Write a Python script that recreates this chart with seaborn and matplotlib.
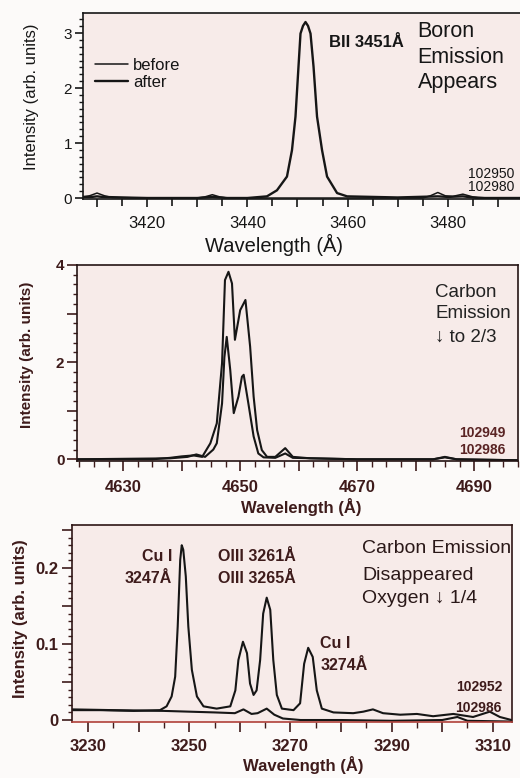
import matplotlib
matplotlib.use("Agg")
import matplotlib.pyplot as plt
import seaborn as sns
import pandas as pd
from matplotlib.ticker import MultipleLocator, FuncFormatter

# ---------------- Boron window (B II 3451 Å) ----------------
boron_before_wl = [3407.2, 3408.5, 3410.0, 3411.5, 3413.0, 3420.0, 3430.0, 3431.5, 3433.0, 3434.5,
                   3436.0, 3445.0, 3452.0, 3460.0, 3470.0, 3475.0, 3476.5, 3478.0, 3479.5, 3481.0,
                   3483.0, 3485.0, 3488.0, 3494.6]
boron_before_int = [0.02, 0.04, 0.09, 0.04, 0.01, 0.0, 0.0, 0.02, 0.06, 0.02,
                    0.0, 0.0, 0.0, 0.0, 0.0, 0.0, 0.04, 0.10, 0.04, 0.03,
                    0.07, 0.02, 0.0, -0.01]
boron_after_wl = [3407.2, 3409.0, 3410.0, 3411.0, 3415.0, 3420.0, 3430.0, 3433.0, 3436.0, 3440.0,
                  3443.9, 3445.9, 3447.9, 3448.9, 3449.6, 3450.2, 3450.6, 3451.1, 3451.6, 3452.1,
                  3452.6, 3453.2, 3453.9, 3454.9, 3455.9, 3457.9, 3459.9, 3465.0, 3470.0, 3478.0,
                  3480.0, 3483.0, 3486.0, 3494.6]
boron_after_int = [0.02, 0.02, 0.03, 0.02, 0.01, 0.0, 0.0, 0.02, 0.0, 0.0,
                   0.03, 0.14, 0.39, 0.87, 1.48, 2.39, 2.99, 3.13, 3.20, 3.13,
                   2.99, 2.39, 1.48, 0.87, 0.39, 0.09, 0.03, 0.02, 0.01, 0.03,
                   0.02, 0.03, 0.0, 0.0]

# ---------------- Carbon window (C III ~4650 Å) ----------------
carbon_before_wl = [4622.1, 4635.0, 4638.0, 4640.0, 4642.0, 4643.5, 4644.9, 4646.0, 4646.9, 4647.4,
                    4648.0, 4648.6, 4649.1, 4650.0, 4650.9, 4651.7, 4652.3, 4652.9, 4653.7, 4654.6,
                    4656.0, 4657.7, 4659.0, 4662.0, 4670.0, 4683.0, 4685.0, 4687.0, 4697.5]
carbon_before_int = [0.0, 0.0, 0.03, 0.06, 0.08, 0.05, 0.33, 0.74, 1.98, 3.69,
                     3.86, 3.62, 2.46, 3.07, 3.28, 2.32, 1.29, 0.60, 0.19, 0.05,
                     0.05, 0.23, 0.05, 0.02, 0.0, 0.0, 0.05, 0.0, -0.02]
carbon_after_wl = [4622.1, 4638.0, 4641.0, 4642.5, 4644.0, 4645.4, 4646.0, 4646.9, 4647.3, 4647.7,
                   4648.3, 4648.9, 4649.7, 4650.3, 4650.6, 4651.4, 4652.3, 4653.1, 4654.0, 4656.0,
                   4657.7, 4659.0, 4670.0, 4683.0, 4685.0, 4687.0, 4697.5]
carbon_after_int = [0.0, 0.02, 0.05, 0.10, 0.05, 0.20, 0.33, 1.15, 2.10, 2.52,
                    1.84, 0.95, 1.29, 1.70, 1.74, 1.15, 0.47, 0.12, 0.04, 0.03,
                    0.12, 0.03, 0.0, 0.0, 0.04, 0.0, -0.02]

# ---------------- Oxygen / copper window (3230-3310 Å) ----------------
oxygen_before_wl = [3226.8, 3232.4, 3239.0, 3244.2, 3245.5, 3246.5, 3247.2, 3247.7, 3248.2, 3248.5,
                    3248.8, 3249.3, 3249.8, 3250.5, 3251.5, 3252.8, 3255.4, 3258.1, 3259.1, 3259.7,
                    3260.6, 3261.4, 3262.0, 3262.7, 3263.3, 3264.0, 3264.6, 3265.3, 3266.0, 3266.6,
                    3267.3, 3268.3, 3270.6, 3271.9, 3272.7, 3273.5, 3274.4, 3275.2, 3276.2, 3278.5,
                    3282.4, 3284.4, 3286.3, 3288.3, 3291.7, 3295.0, 3298.2, 3302.2, 3306.1, 3309.4,
                    3311.4, 3313.7]
oxygen_before_int = [0.013, 0.013, 0.012, 0.013, 0.018, 0.031, 0.057, 0.123, 0.211, 0.230,
                     0.224, 0.189, 0.123, 0.066, 0.031, 0.018, 0.015, 0.018, 0.039, 0.079,
                     0.103, 0.088, 0.048, 0.033, 0.039, 0.079, 0.140, 0.161, 0.145, 0.079,
                     0.033, 0.015, 0.013, 0.022, 0.074, 0.095, 0.083, 0.039, 0.015, 0.010,
                     0.009, 0.011, 0.014, 0.009, 0.007, 0.008, 0.005, 0.008, 0.004, 0.011,
                     0.004, 0.0]
oxygen_after_wl = [3226.8, 3235.0, 3245.0, 3255.0, 3259.0, 3260.7, 3262.3, 3263.5, 3265.3, 3266.8,
                   3268.5, 3272.0, 3280.0, 3290.0, 3300.0, 3303.0, 3305.0, 3313.7]
oxygen_after_int = [0.014, 0.013, 0.012, 0.010, 0.009, 0.014, 0.008, 0.009, 0.015, 0.007,
                    0.002, 0.0, 0.0, -0.001, 0.0, 0.004, -0.001, -0.002]

# ---------------- styling ----------------
sns.set_theme(style="ticks")
plt.rcParams["font.family"] = ["Liberation Sans", "DejaVu Sans"]
plt.rcParams["axes.linewidth"] = 1.2

PAGE = "#fcfaf9"
PANEL = "#f7ebe9"
INK = "#161616"
MAROON = "#3e1b1b"
W, H = 520, 778


def frac_axes(left, top, right, bottom):
    return [left / W, 1 - bottom / H, (right - left) / W, (bottom - top) / H]


def spectrum(wl, inten, name):
    return pd.DataFrame({"wavelength": wl, "intensity": inten, "shot": name})


def labels_every_20(start, fmt="{:.0f}"):
    def f(v, pos):
        k = (v - start) / 20.0
        return fmt.format(v) if abs(k - round(k)) < 1e-6 else ""
    return FuncFormatter(f)


fig = plt.figure(figsize=(W / 100, H / 100), dpi=100, facecolor=PAGE)

# ================= Panel 1: boron =================
ax1 = fig.add_axes(frac_axes(83, 13, 521, 199))
ax1.set_facecolor(PANEL)
b_before = spectrum(boron_before_wl, boron_before_int, "before")
b_after = spectrum(boron_after_wl, boron_after_int, "after")
sns.lineplot(data=b_before, x="wavelength", y="intensity", ax=ax1, color=INK,
             lw=1.1, label="before", sort=False, estimator=None)
sns.lineplot(data=b_after, x="wavelength", y="intensity", ax=ax1, color=INK,
             lw=1.7, label="after", sort=False, estimator=None)
ax1.set_xlim(3407.2, 3494.6)
ax1.set_ylim(-0.018, 3.364)
ax1.xaxis.set_major_locator(MultipleLocator(10))
ax1.xaxis.set_minor_locator(MultipleLocator(5))
ax1.xaxis.set_major_formatter(labels_every_20(3420))
ax1.yaxis.set_major_locator(MultipleLocator(1))
ax1.yaxis.set_minor_locator(MultipleLocator(0.125))
ax1.tick_params(axis="x", which="major", length=6, width=1.2, labelsize=12, pad=6, colors=INK)
ax1.tick_params(axis="x", which="minor", length=5, width=1.2, colors=INK)
ax1.tick_params(axis="y", which="major", length=6, width=1.2, labelsize=11, pad=2, colors=INK)
ax1.tick_params(axis="y", which="minor", length=3, width=1.0, colors=INK)
ax1.spines["right"].set_visible(False)
for s in ("left", "top", "bottom"):
    ax1.spines[s].set_color(INK)
ax1.set_xlabel("Wavelength (Å)", fontsize=14.5, color=INK, va="center")
ax1.xaxis.set_label_coords(0.435, -0.245)
ax1.set_ylabel("Intensity (arb. units)", fontsize=12, color=INK, va="center")
ax1.yaxis.set_label_coords(-0.117, 0.548)
ax1.legend(loc="upper left", bbox_to_anchor=(0.027, 0.758), frameon=False, fontsize=12,
           handlelength=2.0, handletextpad=0.3, labelspacing=0.1, borderpad=0, borderaxespad=0,
           labelcolor=INK)
ax1.text(0.561, 0.839, "BII 3451Å", transform=ax1.transAxes, fontsize=12, fontweight="bold",
         color=INK, ha="left", va="center")
for txt, y in zip(["Boron", "Emission", "Appears"], [0.903, 0.763, 0.624]):
    ax1.text(0.764, y, txt, transform=ax1.transAxes, fontsize=15.5, color=INK,
             ha="left", va="center")
for txt, y in zip(["102950", "102980"], [0.137, 0.062]):
    ax1.text(0.984, y, txt, transform=ax1.transAxes, fontsize=10, color=INK,
             ha="right", va="center")

# ================= Panel 2: carbon =================
ax2 = fig.add_axes(frac_axes(77, 265, 518, 461))
ax2.set_facecolor(PANEL)
c_before = spectrum(carbon_before_wl, carbon_before_int, "before")
c_after = spectrum(carbon_after_wl, carbon_after_int, "after")
sns.lineplot(data=c_before, x="wavelength", y="intensity", ax=ax2, color=INK,
             lw=1.5, sort=False, estimator=None)
sns.lineplot(data=c_after, x="wavelength", y="intensity", ax=ax2, color=INK,
             lw=1.5, sort=False, estimator=None)
ax2.set_xlim(4622.1, 4697.5)
ax2.set_ylim(-0.035, 4.0)
ax2.xaxis.set_major_locator(MultipleLocator(10))
ax2.xaxis.set_minor_locator(MultipleLocator(2.5))
ax2.xaxis.set_major_formatter(labels_every_20(4630))
ax2.yaxis.set_major_locator(MultipleLocator(1))
ax2.yaxis.set_minor_locator(MultipleLocator(0.2))
ax2.yaxis.set_major_formatter(FuncFormatter(lambda v, p: f"{v:.0f}" if round(v) % 2 == 0 else ""))
ax2.tick_params(axis="x", which="major", length=7, width=1.2, labelsize=12, pad=7, colors=MAROON)
ax2.tick_params(axis="x", which="minor", length=4, width=1.0, colors=MAROON)
ax2.tick_params(axis="y", which="major", length=7, width=1.2, labelsize=11, pad=2, colors=MAROON)
ax2.tick_params(axis="y", which="minor", length=3, width=1.0, colors=MAROON)
for lab in ax2.get_xticklabels() + ax2.get_yticklabels():
    lab.set_fontweight("bold")
for s in ("left", "top", "bottom", "right"):
    ax2.spines[s].set_color("#241414")
ax2.set_xlabel("Wavelength (Å)", fontsize=12, fontweight="bold", color=MAROON, va="center")
ax2.xaxis.set_label_coords(0.508, -0.235)
ax2.set_ylabel("Intensity (arb. units)", fontsize=11, fontweight="bold", color=MAROON, va="center")
ax2.yaxis.set_label_coords(-0.113, 0.54)
for txt, y in zip(["Carbon", "Emission", "↓ to 2/3"], [0.862, 0.755, 0.633]):
    ax2.text(0.812, y, txt, transform=ax2.transAxes, fontsize=13.5, color="#222",
             ha="left", va="center")
for txt, y in zip(["102949", "102986"], [0.143, 0.056]):
    ax2.text(0.971, y, txt, transform=ax2.transAxes, fontsize=10, fontweight="bold",
             color="#5a2424", ha="right", va="center")

# ================= Panel 3: oxygen / copper =================
ax3 = fig.add_axes(frac_axes(72, 525, 512, 722))
ax3.set_facecolor(PANEL)
o_before = spectrum(oxygen_before_wl, oxygen_before_int, "before")
o_after = spectrum(oxygen_after_wl, oxygen_after_int, "after")
sns.lineplot(data=o_before, x="wavelength", y="intensity", ax=ax3, color=INK,
             lw=1.5, sort=False, estimator=None)
sns.lineplot(data=o_after, x="wavelength", y="intensity", ax=ax3, color=INK,
             lw=1.5, sort=False, estimator=None)
ax3.set_xlim(3226.8, 3313.8)
ax3.set_ylim(-0.0026, 0.2566)
ax3.xaxis.set_major_locator(MultipleLocator(10))
ax3.xaxis.set_minor_locator(MultipleLocator(5))
ax3.xaxis.set_major_formatter(labels_every_20(3230))
ax3.yaxis.set_major_locator(MultipleLocator(0.05))
ax3.yaxis.set_minor_locator(MultipleLocator(0.01))


def oxy_fmt(v, pos):
    k = round(v / 0.1, 6)
    if abs(k - round(k)) > 1e-6:
        return ""
    return "0" if round(k) == 0 else f"{v:.1f}"


ax3.yaxis.set_major_formatter(FuncFormatter(oxy_fmt))
ax3.tick_params(axis="x", which="major", length=7, width=1.2, labelsize=12, pad=5, colors=MAROON)
ax3.tick_params(axis="x", which="minor", length=4, width=1.0, colors=MAROON)
ax3.tick_params(axis="y", which="major", length=7, width=1.2, labelsize=12, pad=3, colors=MAROON)
ax3.tick_params(axis="y", which="minor", length=3, width=1.0, colors=MAROON)
for lab in ax3.get_xticklabels() + ax3.get_yticklabels():
    lab.set_fontweight("bold")
for s in ("left", "top", "right"):
    ax3.spines[s].set_color("#2e1515")
ax3.spines["bottom"].set_color("#b0403a")
ax3.set_xlabel("Wavelength (Å)", fontsize=12, fontweight="bold", color=MAROON, va="center")
ax3.xaxis.set_label_coords(0.525, -0.218)
ax3.set_ylabel("Intensity (arb. units)", fontsize=12, fontweight="bold", color=MAROON, va="center")
ax3.yaxis.set_label_coords(-0.118, 0.523)

line_labels = [
    ("Cu I", 0.227, 0.838, "right"),
    ("3247Å", 0.227, 0.726, "right"),
    ("OIII 3261Å", 0.332, 0.838, "left"),
    ("OIII 3265Å", 0.332, 0.726, "left"),
    ("Cu I", 0.564, 0.401, "left"),
    ("3274Å", 0.564, 0.289, "left"),
]
for txt, x, y, ha in line_labels:
    ax3.text(x, y, txt, transform=ax3.transAxes, fontsize=11.5, fontweight="bold",
             color=MAROON, ha=ha, va="center")
for txt, y in zip(["Carbon Emission", "Disappeared", "Oxygen ↓ 1/4"], [0.883, 0.746, 0.629]):
    ax3.text(0.659, y, txt, transform=ax3.transAxes, fontsize=14, color="#2a1818",
             ha="left", va="center")
for txt, y in zip(["102952", "102986"], [0.178, 0.071]):
    ax3.text(0.977, y, txt, transform=ax3.transAxes, fontsize=10, fontweight="bold",
             color=MAROON, ha="right", va="center")

fig.savefig("out.png", dpi=100, facecolor=PAGE)
